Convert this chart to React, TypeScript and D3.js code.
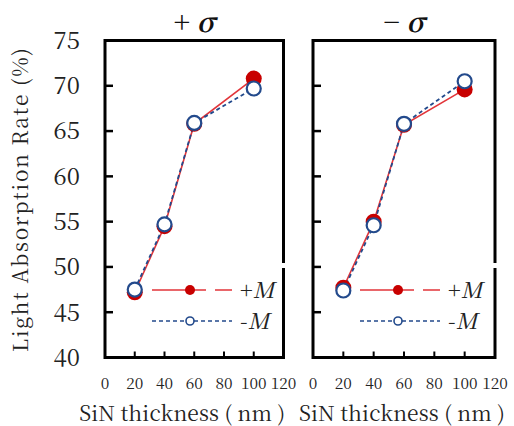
import * as d3 from 'd3';

// SiN thickness (nm) for every measured point
const thickness = [20, 40, 60, 100];

// light absorption rate (%)
const plusSigmaPlusM = [47.2, 54.5, 65.8, 70.8];
const plusSigmaMinusM = [47.5, 54.7, 65.9, 69.7];
const minusSigmaPlusM = [47.7, 55.0, 65.7, 69.6];
const minusSigmaMinusM = [47.4, 54.6, 65.8, 70.5];

const panelTitles = ['+', '\u2212'];
const xTicks = [0, 20, 40, 60, 80, 100, 120];
const yTicks = [40, 45, 50, 55, 60, 65, 70, 75];
const legendLabels = ['+', '-'];

const RED = '#c80000';
const RED_LINE = '#e2353a';
const BLUE = '#234a8c';
const FONT = '"Noto Serif CJK JP", "Liberation Serif", serif';

const top = 40.5;
const bottom = 357.5;
const yScale = d3.scaleLinear().domain([40, 75]).range([bottom, top]);

const panels = [
  { x0: 105, x1: 283.5, plus: plusSigmaPlusM, minus: plusSigmaMinusM },
  { x0: 313, x1: 495, plus: minusSigmaPlusM, minus: minusSigmaMinusM },
];

function Panel({ p, i }: { p: typeof panels[0]; i: number }) {
  const xScale = d3.scaleLinear().domain([0, 120]).range([p.x0, p.x1]);
  const line = d3.line<number>()
    .x((_, j) => xScale(thickness[j]))
    .y(d => yScale(d));
  const lx = p.x0 + 47;

  return (
    <g>
      <rect x={p.x0} y={top} width={p.x1 - p.x0} height={bottom - top}
        fill="none" stroke="#000" strokeWidth={3} />
      {/* small break in the right edge behind the legend */}
      <rect x={p.x1 - 3} y={263} width={6} height={5} fill="#fff" />

      {yTicks.slice(1, -1).map(d => (
        <line key={d} x1={p.x0} x2={p.x0 + 8} y1={yScale(d)} y2={yScale(d)}
          stroke="#000" strokeWidth={2.5} />
      ))}
      {xTicks.slice(1, -1).map(d => (
        <line key={d} x1={xScale(d)} x2={xScale(d)} y1={bottom} y2={bottom - 6}
          stroke="#000" strokeWidth={2} />
      ))}
      {xTicks.map(d => (
        <text key={d} x={xScale(d)} y={389} textAnchor="middle" fontSize={15.5}
          fill="#222" style={{ fontFamily: FONT }}>{d}</text>
      ))}

      <text x={(p.x0 + p.x1) / 2 - 12 + i * 10} y={421} textAnchor="middle"
        fontSize={21} textLength={206} lengthAdjust="spacing" fill="#222"
        style={{ fontFamily: FONT }}>SiN thickness ( nm )</text>

      <text x={(p.x0 + p.x1) / 2} y={32} textAnchor="middle" fontSize={27}
        fontWeight="bold" fill="#111" style={{ fontFamily: FONT }}>
        <tspan>{panelTitles[i] + ' '}</tspan>
        <tspan fontStyle="italic">{'\u03c3'}</tspan>
      </text>

      <path d={line(p.plus) || ''} fill="none" stroke={RED_LINE} strokeWidth={1.6} />
      <path d={line(p.minus) || ''} fill="none" stroke={BLUE} strokeWidth={1.8}
        strokeDasharray="4,3" />

      {p.plus.map((d, j) => (
        <circle key={j} cx={xScale(thickness[j])} cy={yScale(d)} r={8} fill={RED} />
      ))}
      {p.minus.map((d, j) => (
        <circle key={j} cx={xScale(thickness[j])} cy={yScale(d)} r={7} fill="#fff"
          stroke={BLUE} strokeWidth={2.2} />
      ))}

      {/* legend */}
      <line x1={lx} x2={lx + 80} y1={290} y2={290} stroke={RED_LINE} strokeWidth={1.6}
        strokeDasharray="54,9,20" />
      <circle cx={lx + 38} cy={290} r={5} fill={RED} />
      <line x1={lx} x2={lx + 80} y1={321} y2={321} stroke={BLUE} strokeWidth={1.6}
        strokeDasharray="4,3" />
      <circle cx={lx + 38} cy={321} r={4} fill="#fff" stroke={BLUE} strokeWidth={1.6} />
      {legendLabels.map((lab, k) => (
        <text key={k} x={p.x0 + 135} y={298 + k * 31} fontSize={22} fill="#222"
          style={{ fontFamily: FONT }}>
          <tspan>{lab}</tspan>
          <tspan fontStyle="italic">M</tspan>
        </text>
      ))}
    </g>
  );
}

export default function App() {
  return (
    <svg width={514} height={426}
      style={{ position: 'absolute', left: 0, top: 0, background: '#fff' }}>
      <text transform="translate(28, 200) rotate(-90)" textAnchor="middle" fontSize={21}
        textLength={304} lengthAdjust="spacing" fill="#222"
        style={{ fontFamily: FONT }}>Light Absorption Rate (%)</text>

      {yTicks.map(d => (
        <text key={d} x={80} y={yScale(d)} dy="0.35em" textAnchor="end" fontSize={24}
          fill="#222" style={{ fontFamily: FONT }}>{d}</text>
      ))}

      {panels.map((p, i) => <Panel key={i} p={p} i={i} />)}
    </svg>
  );
}
